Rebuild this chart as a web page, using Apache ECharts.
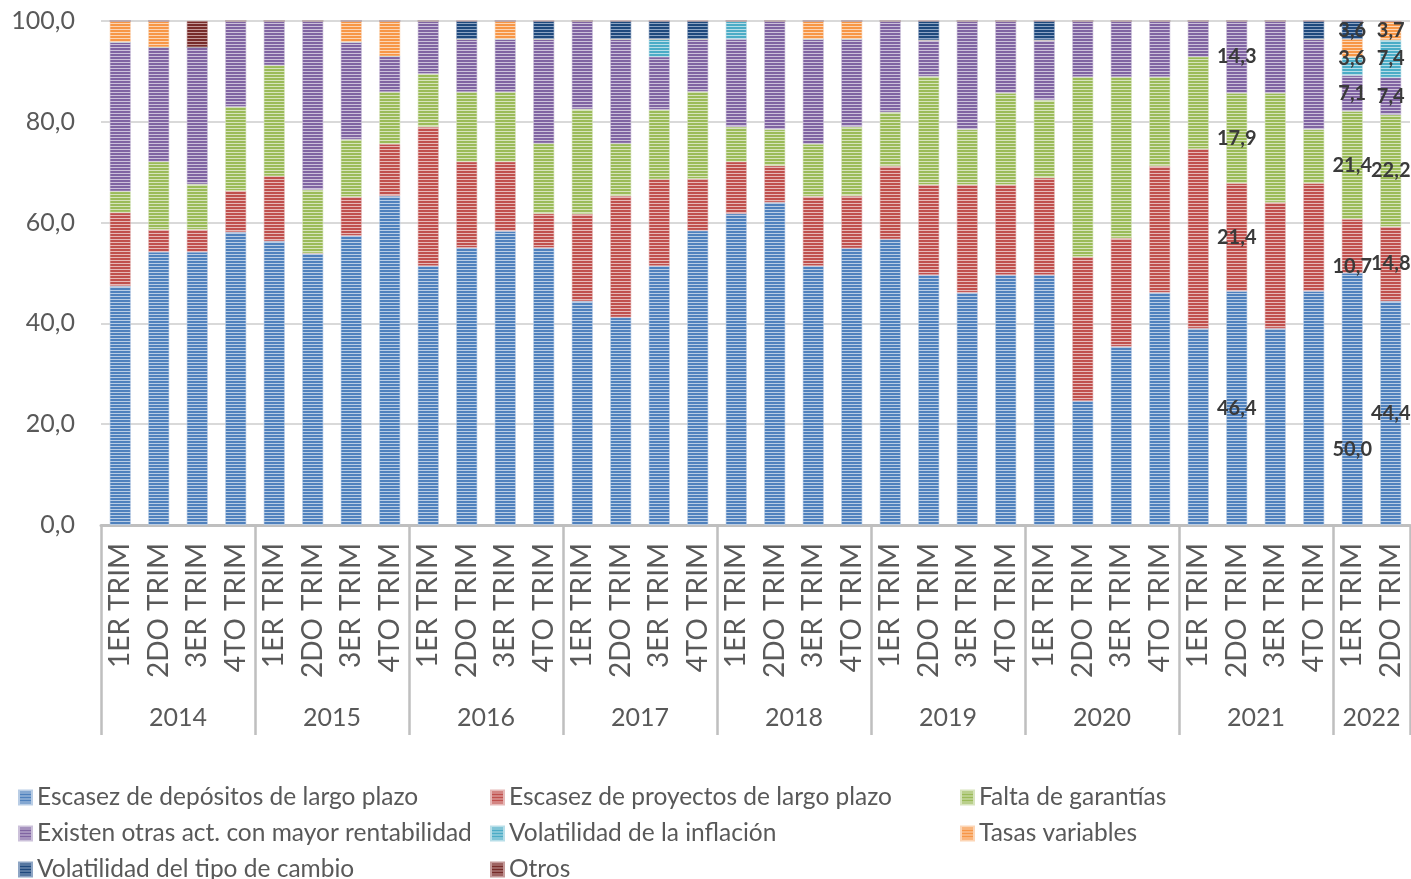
<!DOCTYPE html>
<html>
<head>
<meta charset="utf-8">
<script src="https://cdn.jsdelivr.net/npm/echarts@6/dist/echarts.min.js"></script>
<style>
html,body{margin:0;padding:0;background:#fff;}
#chart{width:1411px;height:879px;}
</style>
</head>
<body>
<div id="chart"></div>
<script>
// ---- data ----
const years = ['2014','2015','2016','2017','2018','2019','2020','2021','2022'];
const quartersPerYear = [4,4,4,4,4,4,4,4,2];
const quarterNames = ['1ER TRIM','2DO TRIM','3ER TRIM','4TO TRIM'];
const yTicks = [0,20,40,60,80,100];

const seriesNames = [
  'Escasez de depósitos de largo plazo',
  'Escasez de proyectos de largo plazo',
  'Falta de garantías',
  'Existen otras act. con mayor rentabilidad',
  'Volatilidad de la inflación',
  'Tasas variables',
  'Volatilidad del tipo de cambio',
  'Otros'
];

const depositos = [47.4,54.2,54.2,58.1,56.3,53.9,57.4,65.3,51.4,55.0,58.3,55.0,44.4,41.2,51.4,58.4,61.8,64.0,51.4,54.9,56.7,49.6,46.1,49.6,49.6,24.6,35.4,46.1,39.0,46.4,39.0,46.4,50.0,44.4];
const proyectos = [14.6,4.4,4.4,8.2,12.9,0,7.7,10.3,27.6,17.1,13.8,6.8,17.3,24.1,17.2,10.3,10.3,7.3,13.8,10.4,14.5,17.9,21.4,17.9,19.3,28.6,21.5,25.1,35.6,21.4,25.0,21.4,10.7,14.8];
const garantias = [4.2,13.5,9.0,16.7,22.0,12.6,11.4,10.3,10.5,13.8,13.8,13.9,20.8,10.4,13.8,17.3,6.9,7.2,10.4,13.7,10.7,21.5,11.0,18.2,15.4,35.7,32.0,17.7,18.3,17.9,21.7,10.7,21.4,22.2];
const otrasAct = [29.6,22.7,27.2,17.0,8.8,33.5,19.3,7.1,10.5,10.5,10.5,20.7,17.5,20.7,10.5,10.4,17.4,21.5,20.8,17.4,18.1,7.2,21.5,14.3,11.9,11.1,11.1,11.1,7.1,14.3,14.3,17.9,7.1,7.4];
const inflacion = [0,0,0,0,0,0,0,0,0,0,0,0,0,0,3.5,0,3.6,0,0,0,0,0,0,0,0,0,0,0,0,0,0,0,3.6,7.4];
const tasas = [4.2,5.2,0,0,0,0,4.2,7.0,0,0,3.6,0,0,0,0,0,0,0,3.6,3.6,0,0,0,0,0,0,0,0,0,0,0,0,3.6,3.7];
const tipoCambio = [0,0,0,0,0,0,0,0,0,3.6,0,3.6,0,3.6,3.6,3.6,0,0,0,0,0,3.8,0,0,3.8,0,0,0,0,0,0,3.6,3.6,0];
const otros = [0,0,5.2,0,0,0,0,0,0,0,0,0,0,0,0,0,0,0,0,0,0,0,0,0,0,0,0,0,0,0,0,0,0,0];

const labeledIdx = [29,32,33];

// ---- styling ----
const palette = [
  ['#4f81bd','#b9cde5'],
  ['#c0504d','#e6b9b8'],
  ['#9bbb59','#d7e4bd'],
  ['#8064a2','#ccc1da'],
  ['#4bacc6','#b7dee8'],
  ['#f79646','#fcd5b5'],
  ['#1f497d','#8ea5c4'],
  ['#772c2a','#c49a99']
];
function makePattern(dark, light){
  const c = document.createElement('canvas');
  c.width = 4; c.height = 3;
  const ctx = c.getContext('2d');
  ctx.fillStyle = dark; ctx.fillRect(0,0,4,2);
  ctx.fillStyle = light; ctx.fillRect(0,2,4,1);
  return {image: c, repeat: 'repeat'};
}

const categories = [];
years.forEach((y, yi) => {
  for (let q = 0; q < quartersPerYear[yi]; q++) categories.push(y + '|' + quarterNames[q]);
});
const tickVals = [0];
const yearCenters = [];
let acc = 0;
quartersPerYear.forEach(n => { yearCenters.push(acc + n/2); acc += n; tickVals.push(acc); });

const allData = [depositos, proyectos, garantias, otrasAct, inflacion, tasas, tipoCambio, otros];
const fmt = v => Number(v).toFixed(1).replace('.', ',');
const FONT = 'Lato';

// label tweaks for the last bars as in the reference
const labelOffsets = { '0_32': [0, 51], '1_32': [0, 21], '4_32': [0, -8] };
const hiddenLabels = { '5_32': true };

const series = allData.map((arr, si) => ({
  name: seriesNames[si],
  type: 'bar',
  stack: 'total',
  barWidth: 21,
  itemStyle: { color: makePattern(palette[si][0], palette[si][1]), borderColor: palette[si][1], borderWidth: 0.6 },
  label: { show: false, position: 'inside', formatter: p => fmt(p.value), color: '#3a3a3a', fontFamily: FONT, fontWeight: 'bold', fontSize: 20 },
  emphasis: { disabled: true },
  data: arr.map((v, i) => {
    const key = si + '_' + i;
    if (labeledIdx.includes(i) && v > 0 && !hiddenLabels[key]) {
      const lab = { show: true };
      if (labelOffsets[key]) lab.offset = labelOffsets[key];
      return { value: v, label: lab };
    }
    return v;
  })
}));

const legendStyle = { fontFamily: FONT, fontSize: 24.5, lineHeight: 24, color: '#595959' };
const legendCommon = { orient: 'vertical', itemWidth: 13, itemHeight: 14, itemGap: 11, icon: 'rect', textStyle: legendStyle, top: 785, height: 100, padding: 0 };

const chart = echarts.init(document.getElementById('chart'), null, { renderer: 'canvas' });
chart.setOption({
  animation: false,
  backgroundColor: '#ffffff',
  grid: { left: 101, right: 1, top: 21, bottom: 354, containLabel: false },
  legend: [
    Object.assign({}, legendCommon, { left: 18, data: [seriesNames[0], seriesNames[3], seriesNames[6]] }),
    Object.assign({}, legendCommon, { left: 490, data: [seriesNames[1], seriesNames[4], seriesNames[7]] }),
    Object.assign({}, legendCommon, { left: 960, data: [seriesNames[2], seriesNames[5]] })
  ],
  xAxis: [
    {
      type: 'category',
      data: categories,
      axisLine: { lineStyle: { color: '#bfbfbf', width: 3 } },
      axisTick: { show: false },
      axisLabel: { rotate: 90, interval: 0, margin: 18, fontFamily: FONT, fontSize: 28, color: '#595959', formatter: v => v.split('|')[1] }
    },
    {
      type: 'value',
      min: 0, max: acc,
      position: 'bottom',
      axisLine: { show: false },
      splitLine: { show: false },
      axisTick: { show: true, customValues: tickVals, length: 210, lineStyle: { color: '#bfbfbf', width: 2.5 } },
      axisLabel: { customValues: yearCenters, margin: 180, fontFamily: FONT, fontSize: 25, color: '#595959',
        formatter: v => { const k = yearCenters.indexOf(v); return k >= 0 ? years[k] : ''; } }
    }
  ],
  yAxis: {
    type: 'value',
    min: yTicks[0], max: yTicks[yTicks.length-1], interval: 20,
    axisLine: { show: false },
    axisTick: { show: false },
    splitLine: { lineStyle: { color: '#d9d9d9', width: 2 } },
    axisLabel: { margin: 26, fontFamily: FONT, fontSize: 25, color: '#595959', formatter: v => fmt(v) }
  },
  series: series
});
</script>
</body>
</html>
